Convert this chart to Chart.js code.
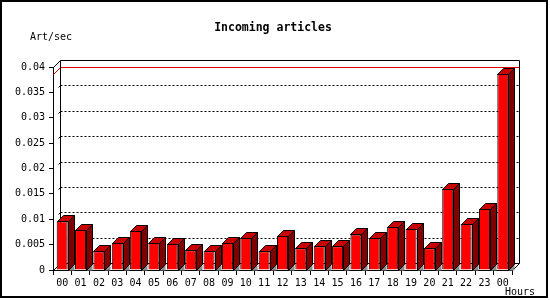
<!DOCTYPE html>
<html>
<head>
<meta charset="utf-8">
<script src="https://cdn.jsdelivr.net/npm/chart.js@4/dist/chart.umd.min.js"></script>
<style>
  body { margin: 0; background: #fff; }
  canvas { display: block; }
</style>
</head>
<body>
<canvas id="articlesChart" width="550" height="300"></canvas>
<script>
// data
const hours = ['00', '01', '02', '03', '04', '05', '06', '07', '08', '09', '10', '11',
  '12', '13', '14', '15', '16', '17', '18', '19', '20', '21', '22', '23', '00'];
const artPerSec = [0.0096, 0.0079, 0.0037, 0.0053, 0.0077, 0.0053, 0.0051, 0.0039, 0.0037,
  0.0053, 0.0063, 0.0037, 0.0067, 0.0043, 0.0047, 0.0047, 0.0070, 0.0063, 0.0085, 0.0081,
  0.0043, 0.0160, 0.0091, 0.0120, 0.0386];
const yMax = 0.04;
const yStep = 0.005;

const chartTitle = 'Incoming articles';
const yUnit = 'Art/sec';
const xUnit = 'Hours';

const FONT = '"DejaVu Sans Mono", monospace';
const DEPTH = 7;     // back plane offset
const BAR_DEPTH = 6; // bar side/top depth

function line(ctx, x1, y1, x2, y2) {
  ctx.beginPath();
  ctx.moveTo(x1, y1);
  ctx.lineTo(x2, y2);
  ctx.stroke();
}

function poly(ctx, pts, fill) {
  ctx.beginPath();
  ctx.moveTo(pts[0][0], pts[0][1]);
  for (let i = 1; i < pts.length; i++) ctx.lineTo(pts[i][0], pts[i][1]);
  ctx.closePath();
  ctx.fillStyle = fill;
  ctx.fill();
  ctx.stroke();
}

// back plane, grid, max line, floor shadows
const backPlane = {
  id: 'backPlane',
  beforeDatasetsDraw(chart) {
    const { ctx, chartArea: a, scales: { y } } = chart;
    const L = a.left + 0.5, R = a.right + 0.5, T = a.top + 0.5, B = a.bottom + 0.5;
    ctx.save();
    ctx.lineWidth = 1;
    ctx.strokeStyle = '#000';

    // dotted grid on the back wall
    ctx.setLineDash([2, 2]);
    for (let v = yStep; v < yMax - 1e-9; v += yStep) {
      const py = Math.round(y.getPixelForValue(v)) - DEPTH + 0.5;
      line(ctx, L + DEPTH, py, R + DEPTH, py);
    }
    ctx.setLineDash([]);
    for (let v = yStep; v < yMax - 1e-9; v += yStep) {
      const py = Math.round(y.getPixelForValue(v)) + 0.5;
      line(ctx, L + DEPTH - 2, py - DEPTH + 2, L + DEPTH, py - DEPTH);
    }

    // max value line
    const maxVal = Math.max(...artPerSec);
    const my = Math.round(y.getPixelForValue(maxVal)) + 0.5;
    ctx.strokeStyle = '#e00000';
    line(ctx, L, my, L + DEPTH, my - DEPTH);
    line(ctx, L + DEPTH, my - DEPTH, R + DEPTH, my - DEPTH);

    // back wall frame
    ctx.strokeStyle = '#000';
    line(ctx, L + DEPTH, T - DEPTH, R + DEPTH, T - DEPTH);
    line(ctx, L + DEPTH, T - DEPTH, L + DEPTH, B - DEPTH);
    line(ctx, R + DEPTH, T - DEPTH, R + DEPTH, B - DEPTH);
    line(ctx, L + DEPTH, B - DEPTH, R + DEPTH, B - DEPTH);
    line(ctx, L, T, L + DEPTH, T - DEPTH);
    line(ctx, L, B, L + DEPTH, B - DEPTH);
    line(ctx, R, B, R + DEPTH, B - DEPTH);

    // floor shadows of the bars
    const meta = chart.getDatasetMeta(0);
    ctx.fillStyle = '#8c8c8c';
    meta.data.forEach(bar => {
      const { x, width } = bar.getProps(['x', 'width'], true);
      const r = Math.round(x + width / 2) + 0.5;
      ctx.beginPath();
      ctx.moveTo(r, B);
      ctx.lineTo(r + BAR_DEPTH, B);
      ctx.lineTo(r + BAR_DEPTH, B - BAR_DEPTH);
      ctx.closePath();
      ctx.fill();
    });
    ctx.restore();
  },
  afterDatasetsDraw(chart) {
    const { ctx } = chart;
    const meta = chart.getDatasetMeta(0);
    ctx.save();
    ctx.lineWidth = 1;
    ctx.strokeStyle = '#000';
    meta.data.forEach(bar => {
      const { x, y, base, width } = bar.getProps(['x', 'y', 'base', 'width'], true);
      const l = Math.round(x - width / 2) + 0.5;
      const r = Math.round(x + width / 2) + 0.5;
      const t = Math.round(y) + 0.5;
      const b = Math.round(base) + 0.5;
      const d = BAR_DEPTH;
      poly(ctx, [[l, t], [r, t], [r + d, t - d], [l + d, t - d]], '#c80000');
      poly(ctx, [[r, t], [r + d, t - d], [r + d, b - d], [r, b]], '#800000');
    });
    ctx.restore();
  },
  afterDraw(chart) {
    const { ctx } = chart;
    ctx.save();
    ctx.fillStyle = '#000';
    ctx.textBaseline = 'alphabetic';
    ctx.font = 'bold 11.5px ' + FONT;
    ctx.textAlign = 'center';
    ctx.fillText(chartTitle, 273, 31);
    ctx.font = '10px ' + FONT;
    ctx.textAlign = 'left';
    ctx.fillText(yUnit, 30, 40);
    ctx.fillText(xUnit, 505, 295);
    ctx.lineWidth = 2;
    ctx.strokeStyle = '#000';
    ctx.strokeRect(1, 1, 546, 296);
    ctx.restore();
  }
};

const ctx = document.getElementById('articlesChart').getContext('2d');
const articlesChart = new Chart(ctx, {
  type: 'bar',
  data: {
    labels: hours,
    datasets: [{
      label: yUnit,
      data: artPerSec,
      backgroundColor: '#ff0000',
      borderColor: '#000',
      borderWidth: 1,
      barPercentage: 0.6,
      categoryPercentage: 1,
    }],
  },
  options: {
    responsive: false,
    animation: false,
    layout: { padding: { top: 67, right: 38, bottom: 0, left: 0 } },
    plugins: {
      legend: { display: false },
      title: { display: false },
      tooltip: { enabled: false },
    },
    scales: {
      x: {
        afterFit: s => { s.height = 30; },
        grid: { drawOnChartArea: false, tickLength: 5, color: '#000', offset: true },
        border: { color: '#000' },
        ticks: { color: '#000', font: { family: FONT, size: 10 }, maxRotation: 0, autoSkip: false, padding: 2 },
      },
      y: {
        min: 0,
        max: yMax,
        afterFit: s => { s.width = 53; },
        grid: { drawOnChartArea: false, tickLength: 4, color: '#000' },
        border: { color: '#000' },
        ticks: {
          stepSize: yStep,
          color: '#000',
          font: { family: FONT, size: 10 },
          padding: 4,
          callback: function (value) { return String(+value.toFixed(3)); },
        },
      },
    },
  },
  plugins: [backPlane],
});
</script>
</body>
</html>
